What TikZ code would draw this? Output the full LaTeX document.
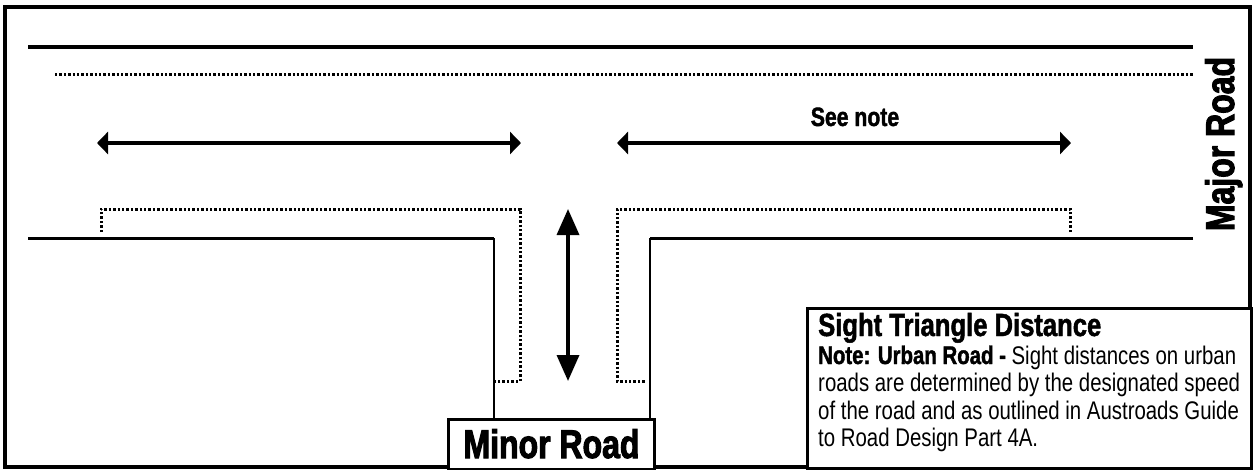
\documentclass[tikz,border=0pt]{standalone}
\usepackage{fontspec}
\setmainfont{Liberation Sans}
\newfontfamily\bigfont[FakeStretch=0.8,BoldFeatures={FakeBold=2.5}]{Liberation Sans}
\newfontfamily\midfont[FakeStretch=0.8,BoldFeatures={FakeBold=1.5}]{Liberation Sans}
\usetikzlibrary{arrows.meta}
\tikzset{
  roadline/.style={line width=3.5pt, line cap=butt},
  edgeline/.style={line width=3pt},
  thinedge/.style={line width=2.5pt},
  dotline/.style={line width=3pt, dash pattern=on 2.4pt off 2pt},
  harrow/.style={line width=4.2pt, {Triangle[length=11pt,width=22pt]}-{Triangle[length=11pt,width=22pt]}},
  varrow/.style={line width=3.5pt, {Triangle[length=26pt,width=22pt]}-{Triangle[length=26pt,width=22pt]}},
  boxstyle/.style={draw, line width=3pt, fill=white, inner sep=0pt, anchor=north west},
  bigtext/.style={font=\bigfont\bfseries\fontsize{40}{42}\selectfont, inner sep=0pt},
  bodytext/.style={font=\midfont\fontsize{25.5}{27}\selectfont, inner sep=0pt, anchor=base west},
}
\begin{document}
\begin{tikzpicture}[x=1pt,y=-1pt]
\useasboundingbox (0,0) rectangle (1253,469);
% outer frame
\draw[line width=3.5pt] (5,7) rectangle (1250,467);
% major road top edge and centre line
\coordinate (tl) at (28,47);
\coordinate (tr) at (1193,47);
\draw[roadline] (tl) -- (tr);
\coordinate (cl) at (55,74);
\coordinate (cr) at (1193,74);
\draw[dotline] (cl) -- (cr);
% sight distance arrows
\coordinate (la1) at (97,143);
\coordinate (la2) at (521,143);
\coordinate (ra1) at (617,143);
\coordinate (ra2) at (1071,143);
\draw[harrow] (la1) -- (la2);
\draw[harrow] (ra1) -- (ra2);
\node (seenote) [font=\midfont\bfseries\fontsize{26.5}{28}\selectfont, inner sep=0pt, anchor=base] at (855,126) {See note};
% dotted sight lines
\coordinate (ld1) at (101,232);
\coordinate (ld2) at (101,209);
\coordinate (ld3) at (520,209);
\coordinate (ld4) at (520,381);
\coordinate (ld5) at (492,381);
\draw[dotline] (ld1) -- (ld2) -- (ld3) -- (ld4) -- (ld5);
\coordinate (rd1) at (1070,232);
\coordinate (rd2) at (1070,209);
\coordinate (rd3) at (617,209);
\coordinate (rd4) at (617,381);
\coordinate (rd5) at (646,381);
\draw[dotline] (rd1) -- (rd2) -- (rd3) -- (rd4) -- (rd5);
% road edges
\coordinate (le1) at (28,238);
\coordinate (le2) at (494,238);
\coordinate (le3) at (494,418);
\draw[edgeline] (le1) -- (le2);
\draw[thinedge] (le2) -- (le3);
\coordinate (re1) at (1193,238);
\coordinate (re2) at (650,238);
\coordinate (re3) at (650,418);
\draw[edgeline] (re1) -- (re2);
\draw[thinedge] (re2) -- (re3);
% minor road arrow
\coordinate (va1) at (568,209);
\coordinate (va2) at (568,381);
\draw[varrow] (va1) -- (va2);
% minor road label
\node (mbox) [boxstyle, minimum width=206pt, minimum height=50pt] at (447,418) {};
\node (minor) [bigtext, anchor=base] at (551.5,458) {Minor Road};
% major road label
\node (major) [bigtext, anchor=base, rotate=90] at (1234,144) {Major Road};
% note box
\node (sbox) [boxstyle, minimum width=444pt, minimum height=160pt] at (806,307) {};
\node (stitle) [font=\midfont\bfseries\fontsize{32}{34}\selectfont, inner sep=0pt, anchor=base west] at (818,336) {Sight Triangle Distance};
\node (l1) [bodytext] at (818,364) {\textbf{Note: Urban Road -} Sight distances on urban};
\node (l2) [bodytext] at (818,391.5) {roads are determined by the designated speed};
\node (l3) [bodytext] at (818,419) {of the road and as outlined in Austroads Guide};
\node (l4) [bodytext] at (818,446.5) {to Road Design Part 4A.};
\end{tikzpicture}
\end{document}
